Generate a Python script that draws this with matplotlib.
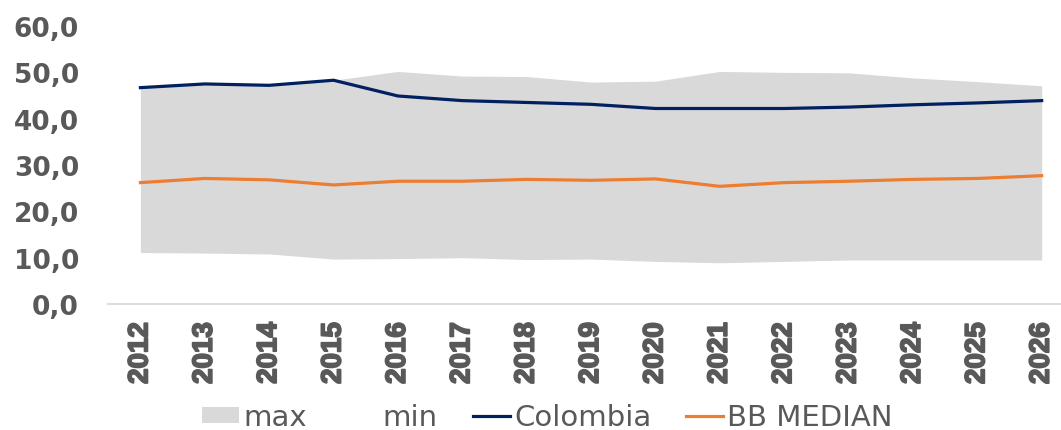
import matplotlib
matplotlib.use("Agg")
import matplotlib.pyplot as plt
import matplotlib.patheffects as pe
from matplotlib.patches import Patch
from matplotlib.lines import Line2D
from matplotlib.ticker import FuncFormatter
import numpy as np

years = [str(y) for y in range(2012, 2027)]
max_vals = [46.7, 47.5, 47.6, 48.3, 50.2, 49.2, 49.1, 47.9, 48.1, 50.2, 50.0, 49.9, 48.8, 48.0, 47.1]
min_vals = [11.1, 11.0, 10.8, 9.7, 9.8, 10.0, 9.6, 9.7, 9.2, 8.9, 9.2, 9.5, 9.5, 9.5, 9.5]
colombia = [46.7, 47.5, 47.2, 48.3, 44.9, 43.9, 43.5, 43.1, 42.2, 42.2, 42.2, 42.5, 43.0, 43.4, 43.9]
bb_median = [26.2, 27.1, 26.8, 25.7, 26.5, 26.5, 26.9, 26.7, 27.0, 25.4, 26.2, 26.5, 26.9, 27.1, 27.7]
yticks = [0, 10, 20, 30, 40, 50, 60]

GRAY_FILL = "#d9d9d9"
NAVY = "#002060"
ORANGE = "#ed7d31"
TEXT = "#595959"

plt.rcParams["font.family"] = ["DejaVu Sans"]

fig = plt.figure(figsize=(10.61, 4.31), dpi=100)
ax = fig.add_axes([0.102, 0.2923, 0.898, 0.6450])

x = np.arange(len(years))
ax.fill_between(x, min_vals, max_vals, color=GRAY_FILL, linewidth=0, zorder=1)
ax.plot(x, colombia, color=NAVY, linewidth=2.3, zorder=3, solid_joinstyle="round")
ax.plot(x, bb_median, color=ORANGE, linewidth=2.3, zorder=3, solid_joinstyle="round")

ax.set_xlim(-0.5, 14.3)
ax.set_ylim(0, 60)
ax.set_yticks(yticks)
ax.yaxis.set_major_formatter(FuncFormatter(lambda v, p: f"{v:.1f}".replace(".", ",")))
ax.set_xticks(x)
ax.set_xticklabels(years, rotation=90, family="Liberation Sans", fontweight="bold",
                   fontsize=20, color=TEXT,
                   path_effects=[pe.withStroke(linewidth=1.3, foreground=TEXT)])

for s in ["top", "right", "left"]:
    ax.spines[s].set_visible(False)
ax.spines["bottom"].set_color("#d9d9d9")
ax.spines["bottom"].set_linewidth(1.3)
ax.spines["bottom"].set_zorder(0)

ax.tick_params(axis="y", length=0, pad=21, labelsize=19, labelcolor=TEXT)
ax.tick_params(axis="x", length=0, pad=13)
for lbl in ax.get_yticklabels():
    lbl.set_fontweight("bold")

handles = [
    Patch(facecolor=GRAY_FILL, edgecolor="none", label="max"),
    Patch(facecolor="white", edgecolor="none", label="min"),
    Line2D([0], [0], color=NAVY, linewidth=2.3, label="Colombia"),
    Line2D([0], [0], color=ORANGE, linewidth=2.3, label="BB MEDIAN"),
]
leg = fig.legend(handles=handles, loc="center", bbox_to_anchor=(0.516, 0.03), ncol=4,
                 frameon=False, fontsize=21, handlelength=1.27, handleheight=0.48,
                 handletextpad=0.14, columnspacing=1.2, borderpad=0)
for t in leg.get_texts():
    t.set_color(TEXT)

fig.savefig("out.png", dpi=100)
